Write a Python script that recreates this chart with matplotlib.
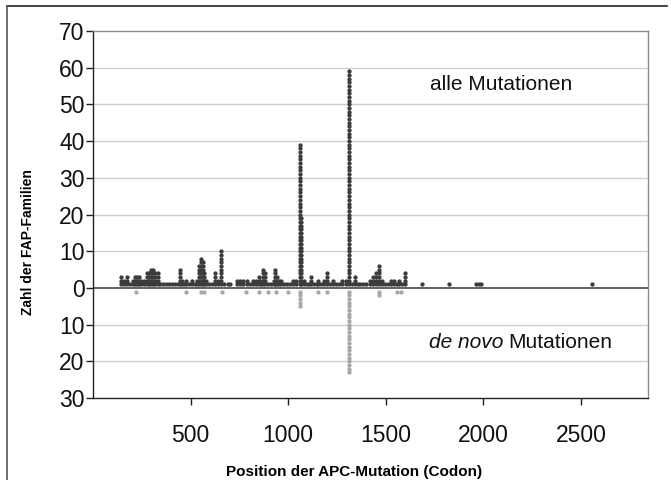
import numpy as np
import matplotlib
matplotlib.use("Agg")
import matplotlib.pyplot as plt
from matplotlib.lines import Line2D

# Data: codon position -> number of FAP families (all mutations)
all_codons = [143, 157, 173, 190, 205, 215, 225, 235, 245, 262, 275, 287, 297, 305, 318, 332,
              345, 360, 375, 390, 405, 420, 433, 444, 455, 468, 478, 490, 505, 520, 535, 545,
              554, 561, 570, 580, 595, 610, 625, 640, 658, 670, 690, 700, 740, 755, 770, 790,
              805, 822, 835, 848, 860, 873, 883, 898, 910, 925, 934, 945, 955, 965, 980, 995,
              1010, 1025, 1040, 1061, 1068, 1080, 1095, 1105, 1117, 1130, 1145, 1153, 1170,
              1185, 1198, 1215, 1230, 1245, 1260, 1275, 1295, 1309, 1325, 1342, 1355, 1370,
              1385, 1400, 1420, 1435, 1450, 1465, 1480, 1495, 1510, 1525, 1540, 1555, 1570,
              1585, 1597, 1683, 1823, 1960, 1975, 1990, 2556]
all_counts = [3, 2, 3, 1, 2, 3, 3, 3, 2, 2, 4, 4, 5, 5, 4, 4,
              1, 1, 1, 1, 1, 1, 1, 5, 2, 1, 2, 1, 2, 1, 2, 6,
              8, 7, 4, 2, 1, 1, 4, 2, 10, 1, 1, 1, 2, 2, 2, 2,
              1, 2, 2, 3, 2, 5, 4, 1, 1, 2, 5, 3, 2, 2, 1, 1,
              1, 2, 2, 39, 19, 2, 1, 1, 3, 1, 1, 2, 1,
              2, 4, 1, 2, 1, 1, 2, 2, 59, 1, 3, 1, 1,
              1, 1, 2, 3, 4, 6, 2, 1, 1, 2, 2, 1, 2,
              1, 4, 1, 1, 1, 1, 1, 1]

# de novo mutations
denovo_codons = [219, 475, 555, 570, 663, 786, 848, 898, 939, 1000, 1061, 1153, 1198, 1309,
                 1465, 1556, 1577]
denovo_counts = [1, 1, 1, 1, 1, 1, 1, 1, 1, 1, 5, 1, 1, 23, 2, 1, 1]

y_ticks = [-30, -20, -10, 0, 10, 20, 30, 40, 50, 60, 70]
y_ticklabels = ["30", "20", "10", "0", "10", "20", "30", "40", "50", "60", "70"]
x_ticks = [500, 1000, 1500, 2000, 2500]

plt.rcParams['font.family'] = ['Liberation Sans', 'DejaVu Sans']

fig = plt.figure(figsize=(6.71, 4.80), dpi=100)
ax = fig.add_axes([0.1386, 0.1708, 0.8271, 0.7646])

# expand into stacked dots
ux = np.repeat(all_codons, all_counts)
uy = np.concatenate([np.arange(1, n + 1) for n in all_counts])
dx = np.repeat(denovo_codons, denovo_counts)
dy = -np.concatenate([np.arange(1, n + 1) for n in denovo_counts])

for yv in y_ticks:
    if yv not in (0, -30, 70):
        ax.axhline(yv, color="#cfcfcf", lw=1.0, zorder=0)
ax.axhline(0, color="#555555", lw=1.3, zorder=1)

ax.plot(ux, uy, linestyle="none", marker="o", markersize=3.1, color="#3c3c3c",
        markeredgewidth=0, zorder=3)
ax.plot(dx, dy, linestyle="none", marker="o", markersize=3.1, color="#a8a8a8",
        markeredgewidth=0, zorder=3)

ax.set_xlim(0, 2843)
ax.set_ylim(-30, 70)
ax.set_yticks(y_ticks)
ax.set_yticklabels(y_ticklabels, fontsize=16.5)
ax.set_xticks(x_ticks)
ax.set_xticklabels([str(v) for v in x_ticks], fontsize=16.5)
ax.tick_params(axis="y", direction="out", length=5, width=1, pad=1, colors="#222222")
ax.tick_params(axis="x", direction="out", length=5, width=1, pad=14, colors="#222222")
for lbl in ax.get_xticklabels() + ax.get_yticklabels():
    lbl.set_color("#111111")

ax.spines["left"].set_color("#222222")
ax.spines["bottom"].set_color("#222222")
ax.spines["top"].set_color("#8a8a8a")
ax.spines["right"].set_color("#8a8a8a")
for s in ax.spines.values():
    s.set_linewidth(1.0)

ax.set_xlabel("Position der APC-Mutation (Codon)", fontsize=11, fontweight="bold")
ax.xaxis.set_label_coords(0.47, -0.182)
ax.set_ylabel("Zahl der FAP-Familien", fontsize=10, fontweight="bold")
ax.yaxis.set_label_coords(-0.105, 0.425)

ax.text(0.607, 0.853, "alle Mutationen", transform=ax.transAxes, fontsize=15,
        ha="left", va="center", color="#111111")
t_dn = ax.text(0.605, 0.150, "de novo", transform=ax.transAxes, fontsize=15,
               style="italic", ha="left", va="center", color="#111111")
ax.annotate("Mutationen", xy=(1, 0.5), xycoords=t_dn, xytext=(3.5, 0),
            textcoords="offset points", fontsize=15, ha="left", va="center",
            color="#111111")

# outer frame (top and left edges)
fx0, fx1 = 7 / 671, 667 / 671
fy0 = 1 - 6 / 480
fig.add_artist(Line2D([fx0, fx1], [fy0, fy0], color="#222222", lw=1.2))
fig.add_artist(Line2D([fx0, fx0], [fy0, 0.0], color="#555555", lw=1.2))

fig.savefig("out.png", dpi=100)
